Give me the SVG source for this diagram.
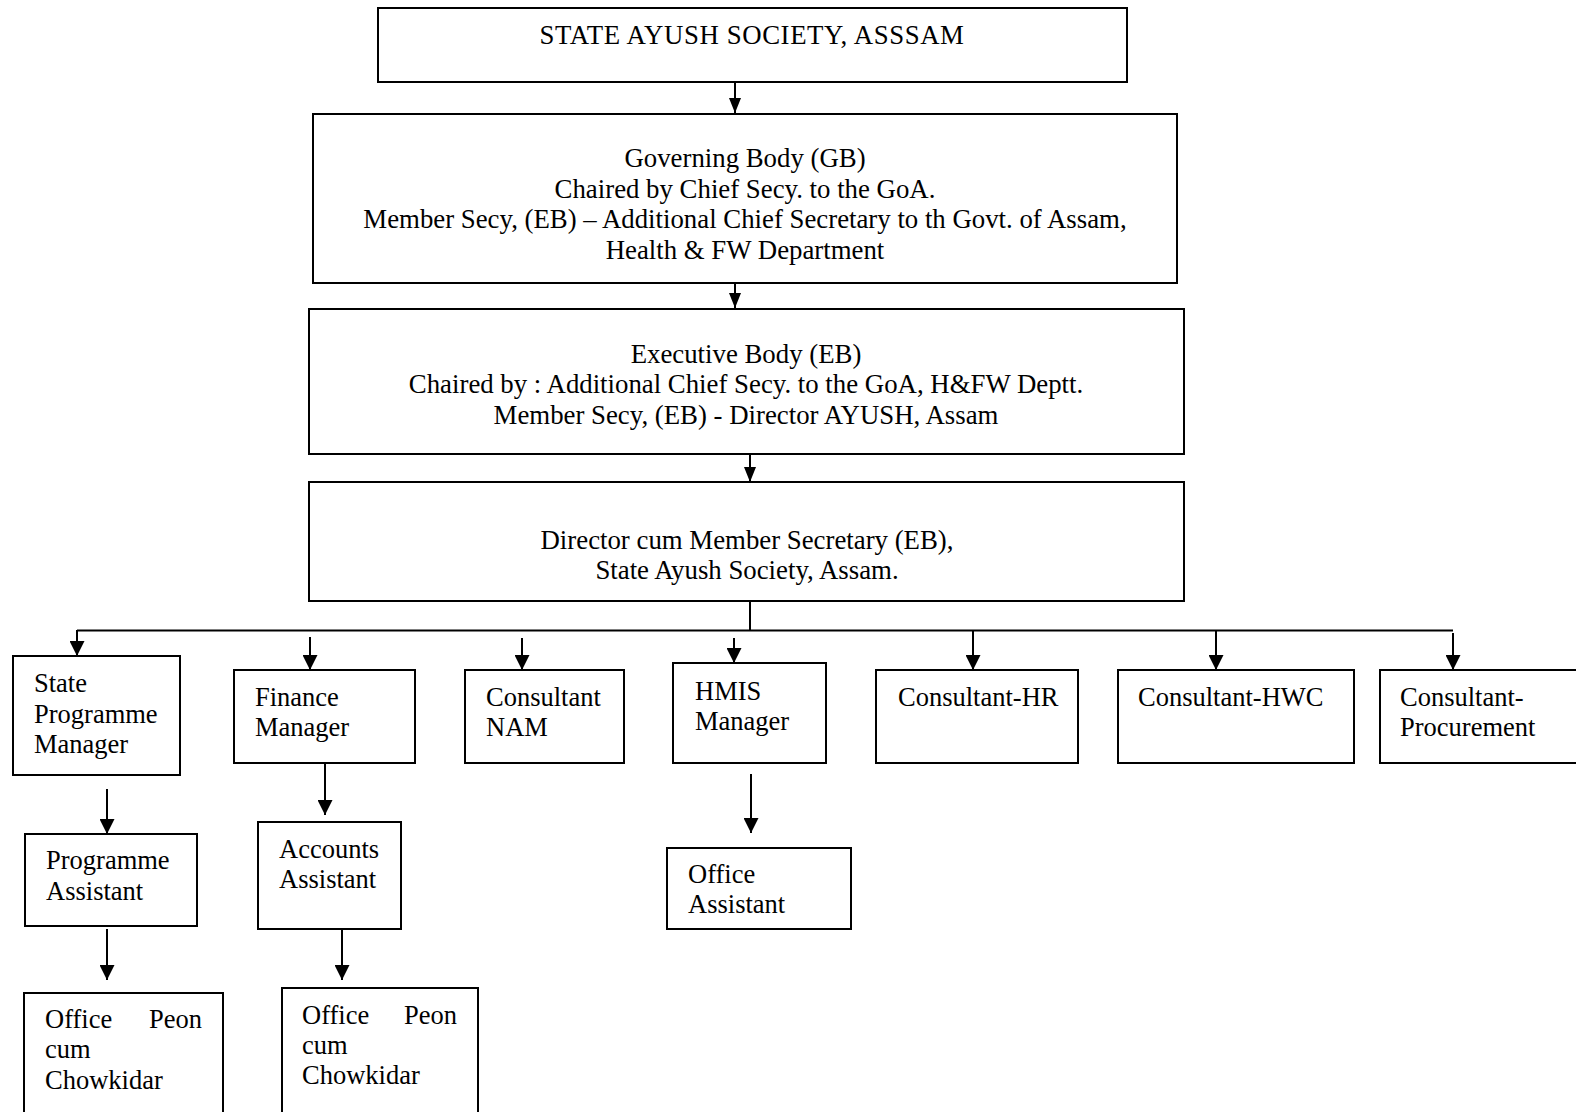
<svg xmlns="http://www.w3.org/2000/svg" width="1576" height="1112" viewBox="0 0 1576 1112">
<style>
.box{fill:#fff;stroke:#000;stroke-width:2}
.t{font-family:"Liberation Serif","Times New Roman",serif;font-size:26.5px;fill:#000}
.big{font-size:26.8px}
.c{text-anchor:middle}
.ln{stroke:#000;stroke-width:2;fill:none}
.ar{stroke:#000;stroke-width:2;fill:none;marker-end:url(#ah)}
.ars{stroke:#000;stroke-width:2;fill:none;marker-end:url(#ahs)}
</style>
<defs>
<marker id="ah" viewBox="0 0 15 15" refX="15" refY="7.5" markerWidth="15" markerHeight="15" markerUnits="userSpaceOnUse" orient="auto">
<path d="M0,0 L15,7.5 L0,15 Z" fill="#000"/>
</marker>
<marker id="ahs" viewBox="0 0 15 12" refX="15" refY="6" markerWidth="15" markerHeight="12" markerUnits="userSpaceOnUse" orient="auto">
<path d="M0,0 L15,6 L0,12 Z" fill="#000"/>
</marker>
</defs>
<rect width="1576" height="1112" fill="#fff"/>
<g id="connectors">
<line class="ars" x1="735" y1="82" x2="735" y2="113"/>
<line class="ars" x1="735" y1="283" x2="735" y2="308"/>
<line class="ars" x1="750" y1="454" x2="750" y2="482"/>
<line class="ln" x1="750" y1="601" x2="750" y2="630.5"/>
<line class="ln" x1="77" y1="630.5" x2="1453" y2="630.5"/>
<line class="ar" x1="77" y1="630" x2="77" y2="656"/>
<line class="ar" x1="310" y1="637" x2="310" y2="670"/>
<line class="ar" x1="522" y1="638" x2="522" y2="670"/>
<line class="ar" x1="734" y1="638" x2="734" y2="663"/>
<line class="ar" x1="973" y1="630" x2="973" y2="670"/>
<line class="ar" x1="1216" y1="630" x2="1216" y2="670"/>
<line class="ar" x1="1453" y1="633" x2="1453" y2="670"/>
<line class="ar" x1="107" y1="789" x2="107" y2="834"/>
<line class="ar" x1="107" y1="929" x2="107" y2="980"/>
<line class="ar" x1="325" y1="763" x2="325" y2="815"/>
<line class="ar" x1="342" y1="929" x2="342" y2="980"/>
<line class="ar" x1="751" y1="774" x2="751" y2="833"/>
</g>
<g id="society">
<rect class="box" x="378" y="8" width="749" height="74"/>
<text class="t big c" x="752" y="44" letter-spacing="0.6">STATE AYUSH SOCIETY, ASSSAM</text>
</g>
<g id="governing-body">
<rect class="box" x="313" y="114" width="864" height="169"/>
<text class="t big c" x="745" y="167">Governing Body (GB)</text>
<text class="t big c" x="745" y="198">Chaired by Chief Secy. to the GoA.</text>
<text class="t big c" x="745" y="228">Member Secy, (EB) – Additional Chief Secretary to th Govt. of Assam,</text>
<text class="t big c" x="745" y="259">Health &amp; FW Department</text>
</g>
<g id="executive-body">
<rect class="box" x="309" y="309" width="875" height="145"/>
<text class="t big c" x="746" y="363">Executive Body (EB)</text>
<text class="t big c" x="746" y="393">Chaired by : Additional Chief Secy. to the GoA, H&amp;FW Deptt.</text>
<text class="t big c" x="746" y="424">Member Secy, (EB) - Director AYUSH, Assam</text>
</g>
<g id="director">
<rect class="box" x="309" y="482" width="875" height="119"/>
<text class="t big c" x="747" y="549">Director cum Member Secretary (EB),</text>
<text class="t big c" x="747" y="579">State Ayush Society, Assam.</text>
</g>
<g id="spm">
<rect class="box" x="13" y="656" width="167" height="119"/>
<text class="t" x="34" y="692">State</text>
<text class="t" x="34" y="723">Programme</text>
<text class="t" x="34" y="753">Manager</text>
</g>
<g id="finance-manager">
<rect class="box" x="234" y="670" width="181" height="93"/>
<text class="t" x="255" y="706">Finance</text>
<text class="t" x="255" y="736">Manager</text>
</g>
<g id="consultant-nam">
<rect class="box" x="465" y="670" width="159" height="93"/>
<text class="t" x="486" y="706">Consultant</text>
<text class="t" x="486" y="736">NAM</text>
</g>
<g id="hmis-manager">
<rect class="box" x="673" y="663" width="153" height="100"/>
<text class="t" x="695" y="700">HMIS</text>
<text class="t" x="695" y="730">Manager</text>
</g>
<g id="consultant-hr">
<rect class="box" x="876" y="670" width="202" height="93"/>
<text class="t" x="898" y="706">Consultant-HR</text>
</g>
<g id="consultant-hwc">
<rect class="box" x="1118" y="670" width="236" height="93"/>
<text class="t" x="1138" y="706">Consultant-HWC</text>
</g>
<g id="consultant-procurement">
<rect class="box" x="1380" y="670" width="210" height="93"/>
<text class="t" x="1400" y="706">Consultant-</text>
<text class="t" x="1400" y="736">Procurement</text>
</g>
<g id="programme-assistant">
<rect class="box" x="25" y="834" width="172" height="92"/>
<text class="t" x="46" y="869">Programme</text>
<text class="t" x="46" y="900">Assistant</text>
</g>
<g id="accounts-assistant">
<rect class="box" x="258" y="822" width="143" height="107"/>
<text class="t" x="279" y="858">Accounts</text>
<text class="t" x="279" y="888">Assistant</text>
</g>
<g id="office-assistant">
<rect class="box" x="667" y="848" width="184" height="81"/>
<text class="t" x="688" y="883">Office</text>
<text class="t" x="688" y="913">Assistant</text>
</g>
<g id="office-peon-1">
<rect class="box" x="24" y="993" width="199" height="130"/>
<text class="t" x="45" y="1028">Office</text>
<text class="t" x="202" y="1028" text-anchor="end">Peon</text>
<text class="t" x="45" y="1058">cum</text>
<text class="t" x="45" y="1089">Chowkidar</text>
</g>
<g id="office-peon-2">
<rect class="box" x="282" y="988" width="196" height="135"/>
<text class="t" x="302" y="1024">Office</text>
<text class="t" x="457" y="1024" text-anchor="end">Peon</text>
<text class="t" x="302" y="1054">cum</text>
<text class="t" x="302" y="1084">Chowkidar</text>
</g>
</svg>
